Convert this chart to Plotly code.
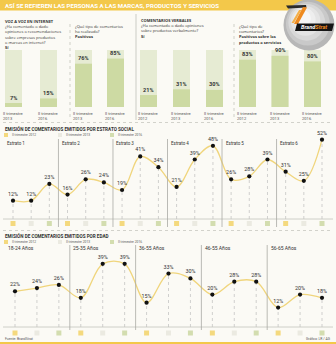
import plotly.graph_objects as go

W, H = 336, 344


def px(x):
    return x / W


def py(y):
    return 1 - y / H


FONT = "Roboto"
TEXT_FONT = "Open Sans"
DARK = "#333333"
MID = "#555555"
YELLOW = "#f3c84a"
BG = "#fbfaf5"
BAR_BG = "#e6ebd3"
BAR_FILL = "#cddaa3"
LINE = "#f0d57c"
SWATCH = ["#f4d97e", "#ebeae1", "#d3ddaf"]

# ---- data -------------------------------------------------------------
net_periods = ["II trimestre 2013", "II trimestre 2016"]
net_yes = [7, 15]
net_positive = [76, 85]

verbal_periods = ["II trimestre 2012", "II trimestre 2013", "II trimestre 2016"]
verbal_yes = [21, 31, 30]
verbal_positive = [83, 90, 80]

legend_periods = ["II trimestre 2012", "II trimestre 2013", "II trimestre 2016"]

estratos = ["Estrato 1", "Estrato 2", "Estrato 3", "Estrato 4", "Estrato 5", "Estrato 6"]
estrato_values = [12, 12, 23, 16, 26, 24, 19, 41, 34, 21, 39, 48, 26, 28, 39, 31, 25, 52]

age_groups = ["18-24 Años", "25-35 Años", "36-55 Años", "46-55 Años", "56-65 Años"]
age_values = [22, 24, 26, 18, 39, 39, 15, 33, 30, 20, 28, 28, 12, 20, 18]

fig = go.Figure()
annotations = []
shapes = []


def note(x, y, text, size=4.6, color=DARK, xanchor="left", yanchor="middle",
         xref="paper", yref="paper", family=FONT, **kw):
    annotations.append(dict(x=x, y=y, xref=xref, yref=yref, text=text,
                            showarrow=False, xanchor=xanchor, yanchor=yanchor,
                            align="left",
                            font=dict(family=family, size=size, color=color), **kw))


def pline(x0, y0, x1, y1, color="#b8b8b2", width=0.7, dash="solid"):
    shapes.append(dict(type="line", xref="paper", yref="paper",
                       x0=px(x0), y0=py(y0), x1=px(x1), y1=py(y1),
                       line=dict(color=color, width=width, dash=dash)))


# ---- header band -----------------------------------------------------
shapes.append(dict(type="rect", xref="paper", yref="paper", x0=0, x1=1,
                   y0=py(10.5), y1=1, fillcolor=YELLOW, line_width=0, layer="below"))
shapes.append(dict(type="rect", xref="paper", yref="paper", x0=0, x1=1,
                   y0=0, y1=py(342), fillcolor=YELLOW, line_width=0, layer="below"))
note(px(3), py(5.5),
     "<b>ASÍ SE REFIEREN LAS PERSONAS A LAS MARCAS, PRODUCTOS Y SERVICIOS</b>",
     size=6.1, color="white")

# ---- bar panels --------------------------------------------------------
# (periods, values, first and last bar centre in px)
panels = [
    (net_periods, net_yes, 13.5, 48.5),
    (net_periods, net_positive, 83.5, 115.5),
    (verbal_periods, verbal_yes, 148.5, 214.5),
    (verbal_periods, verbal_positive, 247.5, 312.5),
]
BAR_TOP, BAR_BOTTOM, BAR_W = 50, 107, 17

layout_axes = {}
for i, (periods, values, c_first, c_last) in enumerate(panels, start=1):
    n = len(periods)
    unit = (c_last - c_first) / (n - 1)
    xa = "x" if i == 1 else f"x{i}"
    ya = "y" if i == 1 else f"y{i}"
    key = "" if i == 1 else str(i)
    layout_axes[f"xaxis{key}"] = dict(domain=[0, 1], range=[-c_first / unit, (W - c_first) / unit],
                                      type="category", visible=False, anchor=ya)
    layout_axes[f"yaxis{key}"] = dict(domain=[py(BAR_BOTTOM), py(BAR_TOP)], range=[0, 100],
                                      visible=False, anchor=xa)
    fig.add_trace(go.Bar(x=periods, y=[100] * n, xaxis=xa, yaxis=ya, width=BAR_W / unit,
                         marker=dict(color=BAR_BG, line_width=0), hoverinfo="skip"))
    fig.add_trace(go.Bar(x=periods, y=values, xaxis=xa, yaxis=ya, width=BAR_W / unit,
                         marker=dict(color=BAR_FILL, line_width=0)))
    for p, v in zip(periods, values):
        note(p, v, f"<b>{v}%</b>", size=5.6, color=DARK, xanchor="center",
             yanchor="bottom", xref=xa, yref=ya, yshift=0.5)
        note(p, py(109), p.replace(" 20", "<br>20"), size=4.1, color=MID,
             xanchor="center", yanchor="top", xref=xa)

# panel headings and questions, one text block per panel
BLOCK_SIZE = 4.0
LINE_H = 1.3 * BLOCK_SIZE
BLOCK_TOP = 16.5
note(px(3), py(BLOCK_TOP),
     "<b>VOZ A VOZ EN INTERNET</b><br>¿Ha comentado o dado<br>opiniones o recomendaciones"
     "<br>sobre empresas productos<br>o marcas en internet?<br><b>Sí</b>",
     size=BLOCK_SIZE, yanchor="top", family=TEXT_FONT)
note(px(73), py(BLOCK_TOP + LINE_H),
     "¿Qué tipo de comentarios<br>ha realizado?<br><b>Positivos</b>",
     size=BLOCK_SIZE, yanchor="top", family=TEXT_FONT)
note(px(139), py(BLOCK_TOP),
     "<b>COMENTARIOS VERBALES</b><br>¿Ha comentado o dado opiniones"
     "<br>sobre productos verbalmente?<br><b>Sí</b>",
     size=BLOCK_SIZE, yanchor="top", family=TEXT_FONT)
note(px(237), py(BLOCK_TOP + LINE_H),
     "¿Qué tipo de<br>comentarios?<br><b>Positivos sobre los</b><br><b>productos o servicios</b>",
     size=BLOCK_SIZE, yanchor="top", family=TEXT_FONT)

pline(70, 24, 70, 120, color="#bdbdb5", dash="dot")
pline(136, 14, 136, 120)
pline(234, 24, 234, 120, color="#bdbdb5", dash="dot")
pline(3, 122.5, 333, 122.5, color="#c8c8c0", dash="dot", width=0.8)
pline(3, 230.5, 333, 230.5, color="#c8c8c0", dash="dot", width=0.8)


# ---- line charts -------------------------------------------------------
def legend_row(y):
    for k, lab in enumerate(legend_periods):
        x0 = [4, 58, 110][k]
        shapes.append(dict(type="rect", xref="paper", yref="paper",
                           x0=px(x0), x1=px(x0 + 4), y0=py(y + 2), y1=py(y - 2),
                           fillcolor=SWATCH[k], line_width=0))
        note(px(x0 + 6), py(y), lab, size=3.3, color=MID)


def line_chart(idx, groups, values, c_first, c_last, zero_px, px_per_unit,
               top_px, swatch_px, label_px, label_size, sep_top, sep_bottom):
    xa, ya = f"x{idx}", f"y{idx}"
    cats = [f"{g} · {p}" for g in groups for p in legend_periods]
    n = len(cats)
    unit = (c_last - c_first) / (n - 1)
    bottom_px = swatch_px + 6
    layout_axes[f"xaxis{idx}"] = dict(domain=[0, 1], range=[-c_first / unit, (W - c_first) / unit],
                                      type="category", visible=False, anchor=ya)
    layout_axes[f"yaxis{idx}"] = dict(domain=[py(bottom_px), py(top_px)],
                                      range=[-(bottom_px - zero_px) / px_per_unit,
                                             (zero_px - top_px) / px_per_unit],
                                      visible=False, anchor=xa)
    swatch_level = -(swatch_px - zero_px) / px_per_unit

    drop_x, drop_y = [], []
    for c, v in zip(cats, values):
        drop_x += [c, c, None]
        drop_y += [0, v, None]
    fig.add_trace(go.Scatter(x=drop_x, y=drop_y, xaxis=xa, yaxis=ya, mode="lines",
                             line=dict(color="#b4b4b4", width=0.6, dash="dot"),
                             hoverinfo="skip", cliponaxis=False))
    fig.add_trace(go.Scatter(x=cats, y=values, xaxis=xa, yaxis=ya, mode="lines",
                             line=dict(color=LINE, width=1.3, shape="spline", smoothing=1.0),
                             hoverinfo="skip", cliponaxis=False))
    fig.add_trace(go.Scatter(x=cats, y=values, xaxis=xa, yaxis=ya, mode="markers+text",
                             marker=dict(color="#111111", size=4.2),
                             text=[f"{v}%" for v in values], textposition="top center",
                             textfont=dict(family=FONT, size=5.4, color=DARK),
                             cliponaxis=False))
    fig.add_trace(go.Scatter(x=cats, y=[swatch_level] * n, xaxis=xa, yaxis=ya, mode="markers",
                             marker=dict(symbol="square", size=5,
                                         color=[SWATCH[k % 3] for k in range(n)], line_width=0),
                             hoverinfo="skip", cliponaxis=False))
    # baseline
    shapes.append(dict(type="line", xref="paper", yref=ya, x0=px(3), x1=px(333),
                       y0=0, y1=0, line=dict(color="#c4c4bc", width=0.8)))
    # group separators and labels
    for g, name in enumerate(groups):
        if g > 0:
            shapes.append(dict(type="line", xref=xa, yref="paper",
                               x0=3 * g - 0.5, x1=3 * g - 0.5,
                               y0=py(sep_bottom), y1=py(sep_top),
                               line=dict(color="#a9a9a4", width=0.8)))
        note(3 * g - 0.5, py(label_px), name, size=label_size, xref=xa, xshift=1.5)


note(px(3), py(129), "<b>EMISIÓN DE COMENTARIOS EMITIDOS POR ESTRATO SOCIAL</b>", size=4.6)
legend_row(135)
line_chart(5, estratos, estrato_values, 13, 322, zero_px=219, px_per_unit=1.525,
           top_px=138, swatch_px=223.5, label_px=143, label_size=4.5,
           sep_top=139, sep_bottom=227)

note(px(3), py(236), "<b>EMISIÓN DE COMENTARIOS EMITIDOS POR EDAD</b>", size=4.6)
legend_row(242)
line_chart(6, age_groups, age_values, 15, 322, zero_px=327, px_per_unit=1.62,
           top_px=252, swatch_px=333, label_px=248.5, label_size=5.0,
           sep_top=245, sep_bottom=330)

note(px(3), py(339), "Fuente: BrandStrat", size=3.4, color=MID)
note(px(333), py(339), "Gráfico: LR / AG", size=3.4, color=MID, xanchor="right")

# ---- BrandStrat badge ----------------------------------------------------
cx, cy, r = 309, 25, 25.5
for k, col in enumerate(["#b7b7b7", "#c9c9c9", "#d8d8d8", "#e4e4e4", "#eeeeee", "#f6f6f6"]):
    rr = r * (1 - 0.14 * k)
    ox, oy = -0.32 * (r - rr), -0.38 * (r - rr)
    shapes.append(dict(type="circle", xref="paper", yref="paper",
                       x0=px(cx + ox - rr), x1=px(cx + ox + rr),
                       y0=py(cy + oy + rr), y1=py(cy + oy - rr),
                       fillcolor=col, line_width=0))


def ppath(points):
    d = "M " + " L ".join(f"{px(a):.5f},{py(b):.5f}" for a, b in points) + " Z"
    return d


shapes.append(dict(type="path", xref="paper", yref="paper",
                   path=ppath([(286, 5.5), (306, 5.0), (306.5, 7.5), (288, 8.5)]),
                   fillcolor="#2a2a2a", line_width=0))
shapes.append(dict(type="path", xref="paper", yref="paper",
                   path=ppath([(303, 7), (307, 7.5), (298, 24), (294, 24)]),
                   fillcolor="#ee8a1f", line_width=0))
shapes.append(dict(type="path", xref="paper", yref="paper",
                   path=ppath([(299, 10), (301.5, 10), (294, 23), (291.5, 23)]),
                   fillcolor="#f4b04a", line_width=0))
shapes.append(dict(type="path", xref="paper", yref="paper",
                   path=ppath([(297, 23.5), (334, 23.5), (332, 31), (295, 31)]),
                   fillcolor="#151515", line_width=0))
note(px(314), py(27.3),
     '<b><i><span style="color:#ffffff">Brand</span>'
     '<span style="color:#f08c22">Strat</span></i></b>',
     size=5.6, xanchor="center")

fig.update_layout(
    width=W, height=H, margin=dict(l=0, r=0, t=0, b=0),
    paper_bgcolor=BG, plot_bgcolor="rgba(0,0,0,0)",
    barmode="overlay", showlegend=False,
    font=dict(family=FONT, color=DARK),
    annotations=annotations, shapes=shapes,
    **layout_axes,
)

fig.write_html("out.html")
